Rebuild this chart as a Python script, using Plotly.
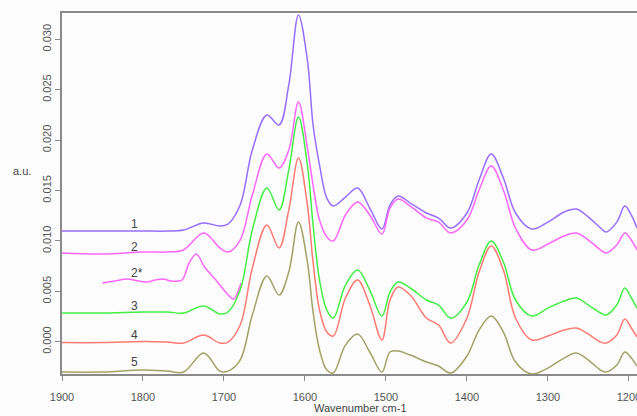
import plotly.graph_objects as go

# wavenumbers (cm-1) shared by spectra 1-5
wn = [1900, 1850, 1800, 1770, 1750, 1725, 1705, 1695, 1680, 1665, 1647, 1632, 1620, 1608,
      1597, 1590, 1582, 1573, 1565, 1550, 1535, 1520, 1505, 1495, 1485, 1470, 1450, 1435,
      1420, 1400, 1385, 1370, 1355, 1340, 1320, 1300, 1280, 1265, 1250, 1235, 1228, 1215,
      1205, 1197, 1190]

s1 = [0.01098, 0.01098, 0.01098, 0.01098, 0.01108, 0.01178, 0.01148, 0.01168, 0.01356, 0.01902,
      0.02249, 0.02150, 0.02546, 0.03241, 0.02794, 0.02150, 0.01753, 0.01425, 0.01346, 0.01435,
      0.01525, 0.01326, 0.01118, 0.01356, 0.01445, 0.01376, 0.01277, 0.01227, 0.01128, 0.01277,
      0.01604, 0.01862, 0.01624, 0.01277, 0.01118, 0.01187, 0.01287, 0.01316, 0.01237, 0.01128,
      0.01088, 0.01187, 0.01346, 0.01257, 0.01128]

s2 = [0.00880, 0.00870, 0.00890, 0.00890, 0.00910, 0.01078, 0.00930, 0.00890, 0.01009, 0.01455,
      0.01862, 0.01723, 0.01902, 0.02378, 0.01922, 0.01554, 0.01207, 0.01039, 0.00999, 0.01257,
      0.01386, 0.01257, 0.01068, 0.01326, 0.01416, 0.01346, 0.01227, 0.01187, 0.01078, 0.01207,
      0.01505, 0.01743, 0.01505, 0.01128, 0.00910, 0.00969, 0.01049, 0.01078, 0.01009, 0.00910,
      0.00880, 0.00959, 0.01078, 0.01009, 0.00910]

s3 = [0.00285, 0.00285, 0.00295, 0.00295, 0.00285, 0.00354, 0.00275, 0.00295, 0.00513, 0.01108,
      0.01525, 0.01306, 0.01703, 0.02229, 0.01753, 0.01158, 0.00612, 0.00314, 0.00235, 0.00562,
      0.00711, 0.00513, 0.00255, 0.00493, 0.00592, 0.00533, 0.00414, 0.00364, 0.00235, 0.00394,
      0.00761, 0.00999, 0.00791, 0.00414, 0.00255, 0.00334, 0.00404, 0.00434, 0.00364, 0.00285,
      0.00265, 0.00364, 0.00533, 0.00434, 0.00334]

s4 = [-0.00008, -0.00008, 0.00002, -0.00003, -0.00013, 0.00066, -0.00013, -0.00003, 0.00166, 0.00731,
      0.01158, 0.00930, 0.01306, 0.01822, 0.01356, 0.00791, 0.00314, 0.00096, 0.00057, 0.00434,
      0.00612, 0.00364, 0.00017, 0.00414, 0.00543, 0.00463, 0.00235, 0.00166, -0.00013, 0.00235,
      0.00691, 0.00949, 0.00711, 0.00235, 0.00017, 0.00057, 0.00116, 0.00136, 0.00076, -0.00003,
      -0.00013, 0.00066, 0.00225, 0.00136, 0.00047]

s5 = [-0.00301, -0.00301, -0.00281, -0.00291, -0.00301, -0.00112, -0.00291, -0.00291, -0.00182, 0.00265,
      0.00652, 0.00463, 0.00691, 0.01187, 0.00791, 0.00295, -0.00082, -0.00281, -0.00310, -0.00033,
      0.00076, -0.00102, -0.00301, -0.00102, -0.00092, -0.00132, -0.00201, -0.00241, -0.00310, -0.00142,
      0.00116, 0.00255, 0.00096, -0.00201, -0.00320, -0.00261, -0.00162, -0.00112, -0.00182, -0.00281,
      -0.00301, -0.00231, -0.00102, -0.00162, -0.00241]

# partial spectrum 2*
wn_2s = [1850, 1835, 1820, 1805, 1795, 1785, 1775, 1765, 1752, 1743, 1734, 1724, 1710, 1698,
         1688, 1683, 1679]
s2s = [0.00582, 0.00602, 0.00622, 0.00602, 0.00592, 0.00612, 0.00622, 0.00602, 0.00612, 0.00781,
       0.00870, 0.00741, 0.00612, 0.00493, 0.00424, 0.00493, 0.00582]

series = [
    ("1", wn, s1, "#986eff"),
    ("2", wn, s2, "#ff66ff"),
    ("2*", wn_2s, s2s, "#ff66ff"),
    ("3", wn, s3, "#44ee44"),
    ("4", wn, s4, "#ff7a72"),
    ("5", wn, s5, "#a2a266"),
]

fig = go.Figure()
for name, x, y, c in series:
    fig.add_trace(go.Scatter(x=x, y=y, mode="lines", name=name,
                             line=dict(color=c, width=1.5, shape="spline", smoothing=1.0)))

label_pos = {"1": 0.01168, "2": 0.00942, "2*": 0.00685, "3": 0.00354, "4": 0.00066, "5": -0.00204}
for name, yy in label_pos.items():
    fig.add_annotation(x=1811 if name != "2*" else 1808, y=yy, xref="x", yref="y", text=name,
                       showarrow=False, font=dict(size=12, color="#444444"))

fig.add_annotation(x=-0.07, y=0.562, xref="paper", yref="paper", text="a.u.", showarrow=False,
                   xanchor="center", yanchor="middle", font=dict(size=11, color="#444444"))
fig.add_annotation(x=1532, y=0, xref="x", yref="paper", yshift=-34, yanchor="middle",
                   text="Wavenumber cm-1", showarrow=False, font=dict(size=11, color="#444444"))

axis_font = dict(family="Liberation Sans, Arial, sans-serif", size=11, color="#555555")
fig.update_layout(
    width=637, height=416,
    margin=dict(l=62, r=0, t=13, b=42, autoexpand=False),
    paper_bgcolor="#fcfcfc", plot_bgcolor="#fcfcfc",
    showlegend=False,
    font=dict(family="Liberation Sans, Arial, sans-serif"),
)
fig.update_xaxes(range=[1900, 1190], tickmode="array", tickvals=[1900, 1800, 1700, 1600, 1500, 1400, 1300, 1200],
                 showgrid=False, zeroline=False, showline=True, linecolor="#8a8a8a", linewidth=1.5,
                 mirror=True, ticks="outside", ticklen=5, tickcolor="#8a8a8a", tickfont=axis_font,
                 ticklabelstandoff=7, ticklabeloverflow="allow", automargin=False)
fig.update_yaxes(range=[-0.0032, 0.03261], tickmode="array",
                 tickvals=[0.0, 0.005, 0.010, 0.015, 0.020, 0.025, 0.030], tickformat=".3f",
                 tickangle=-90, showgrid=False, zeroline=False, showline=True, linecolor="#8a8a8a",
                 linewidth=1.5, ticks="outside", ticklen=5, tickcolor="#8a8a8a", tickfont=axis_font,
                 automargin=False)

fig.write_html("out.html")
